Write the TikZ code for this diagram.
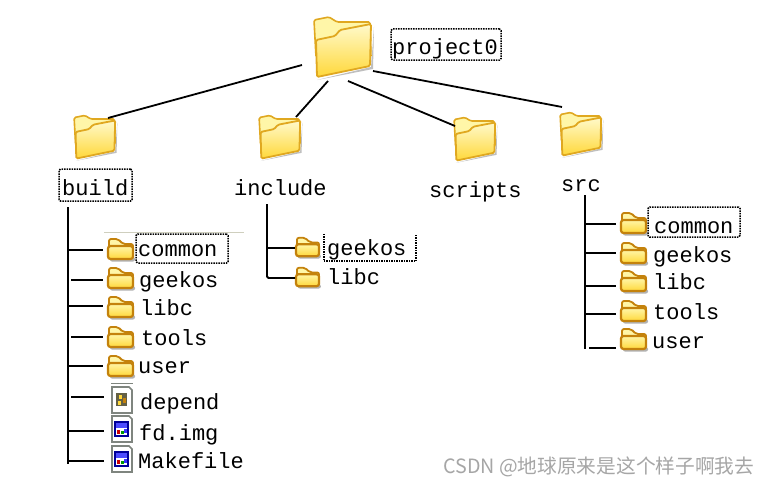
\documentclass[tikz,border=0pt]{standalone}
\usepackage{fontspec}
\setmonofont{Liberation Mono}
\newfontfamily\cjkfont{Noto Sans CJK SC}
\usetikzlibrary{positioning}
\definecolor{goldedge}{HTML}{E0A820}
\definecolor{browngold}{HTML}{C4820C}
\definecolor{creamfill}{HTML}{FFF6A8}
\definecolor{yellowfill}{HTML}{FFD83A}
\definecolor{inkblack}{HTML}{000000}
\definecolor{pagegrey}{HTML}{7F857F}
\definecolor{rulegrey}{HTML}{CFCFBE}
\definecolor{markgrey}{HTML}{A6A6A6}
\tikzset{
  tree/.style={line width=1.8pt, color=inkblack},
  lab/.style={anchor=base west, inner sep=0pt, font=\ttfamily\fontsize{22}{22}\selectfont, text=inkblack},
  dotbox/.style={draw=inkblack, densely dotted, line width=1.5pt, rounded corners=1.5pt, inner sep=0pt},
  dirnode/.style={minimum width=26pt, minimum height=22pt, inner sep=0pt, outer xsep=5pt},
  pics/bigfolder/.style={code={
    \fill[gray!50] (-26,33) -- (30,22) -- (31,-20) -- (28,20) -- cycle;
    \draw[goldedge, line width=1.6pt, fill=creamfill, rounded corners=1.5pt] (-29,-27) -- (-14,-30) -- (-6,-25) -- (27,-25) -- (28,10) -- (-27,10) -- cycle;
    \draw[goldedge, line width=1.8pt, top color=white!40!creamfill, bottom color=yellowfill, rounded corners=1.5pt] (-26,30) -- (27,19) -- (28,-23) -- (-3,-17) -- (-8,-11) -- (-27,-7) -- cycle;
  }},
  pics/treefolder/.style={code={
    \draw[browngold, line width=1.8pt, fill=creamfill, rounded corners=2pt] (-12,2) -- (-12,-10) -- (-3,-10) -- (2,-5) -- (12,-5) -- (12,2) -- cycle;
    \fill[gray!60, rounded corners=2pt] (-11,8) rectangle (14,12.5);
    \draw[browngold, line width=2.2pt, top color=creamfill, bottom color=yellowfill, rounded corners=2.5pt] (-13,-3) rectangle (12,10);
  }},
  pics/pagefile/.style={code={
    \draw[pagegrey, line width=1.6pt, fill=white] (-10,-13) -- (7,-13) -- (10,-10) -- (10,13) -- (-10,13) -- cycle;
  }},
  pics/depmark/.style={code={
    \fill[black!70!yellow] (-6,-7) rectangle (5,6);
    \fill[yellowfill] (-3,-5) rectangle (0,-1); \fill[browngold] (1,-2) rectangle (4,3); \fill[yellowfill] (-4,1) rectangle (-1,5);
  }},
  pics/imgmark/.style={code={
    \draw[blue!60!black, line width=1.3pt, fill=white] (-7,-7) rectangle (6,7);
    \fill[blue!70] (-6,-6) rectangle (5,-1);
    \fill[red!80!black] (-5,1) rectangle (-2,5); \fill[green!60!black] (-1,2) rectangle (2,5); \fill[blue!80] (2,0) rectangle (5,4);
  }}
}

\begin{document}
\begin{tikzpicture}[x=1pt,y=-1pt]
\useasboundingbox[fill=white] (0,0) rectangle (770,487);
\node[minimum width=59pt, minimum height=60pt, inner sep=0pt] (rootdir) at (343,47) {}; \pic at (rootdir) {bigfolder};
\node[minimum width=43pt, minimum height=43pt, inner sep=0pt] (builddir) at (95,137) {}; \pic[scale=.72] at (builddir) {bigfolder};
\node[minimum width=43pt, minimum height=43pt, inner sep=0pt] (includedir) at (280,137) {}; \pic[scale=.72] at (includedir) {bigfolder};
\node[minimum width=43pt, minimum height=43pt, inner sep=0pt] (scriptsdir) at (475,139) {}; \pic[scale=.72] at (scriptsdir) {bigfolder};
\node[minimum width=43pt, minimum height=43pt, inner sep=0pt] (srcdir) at (581,134) {}; \pic[scale=.72] at (srcdir) {bigfolder};
\node[dotbox, minimum width=110pt, minimum height=31pt] (projectbox) at (446,44.5) {};
\node[dotbox, minimum width=73pt, minimum height=32pt] (buildbox) at (95.5,185) {};
\node[lab] (projectlab) at (392,55) {project0};
\node[lab] (buildlab) at (62,195) {build};
\node[lab] (includelab) at (234,195) {include};
\node[lab] (scriptslab) at (429,197) {scripts};
\node[lab] (srclab) at (561,191) {src};
\coordinate (rootb) at (302,65); \coordinate (tipb) at (108,118);
\coordinate (rooti) at (328,81); \coordinate (tipi) at (296,117);
\coordinate (roots) at (348,81); \coordinate (tips) at (455,126);
\coordinate (rootc) at (373,71); \coordinate (tipc) at (562,107);
\draw[tree] (rootb) -- (tipb); \draw[tree] (rooti) -- (tipi); \draw[tree] (roots) -- (tips); \draw[tree] (rootc) -- (tipc);
\draw[rulegrey, line width=1pt] (104,232) -- (244,232);
\node[dirnode] (bcommon) at (121,249) {}; \pic at (bcommon) {treefolder};
\node[dirnode] (bgeekos) at (121,278) {}; \pic at (bgeekos) {treefolder};
\node[dirnode] (blibc) at (121,307) {}; \pic at (blibc) {treefolder};
\node[dirnode] (btools) at (121,337) {}; \pic at (btools) {treefolder};
\node[dirnode] (buser) at (121,366) {}; \pic at (buser) {treefolder};
\draw[pagegrey, line width=1pt] (111,383) -- (133,383);
\node[dirnode] (bdepend) at (122,400) {}; \pic at (bdepend) {pagefile}; \pic at (bdepend) {depmark};
\node[dirnode] (bfd) at (122,429) {}; \pic at (bfd) {pagefile}; \pic at (bfd) {imgmark};
\node[dirnode] (bmake) at (122,459) {}; \pic at (bmake) {pagefile}; \pic at (bmake) {imgmark};
\node[dotbox, minimum width=92pt, minimum height=29pt] (bcommonbox) at (182,248.5) {};
\node[lab] (bcommonlab) at (138,256) {common};
\node[lab] (bgeekoslab) at (139,287) {geekos};
\node[lab] (blibclab) at (140,315) {libc};
\node[lab] (btoolslab) at (141,345) {tools};
\node[lab] (buserlab) at (138,373) {user};
\node[lab] (bdependlab) at (140,409) {depend};
\node[lab] (bfdlab) at (139,440) {fd.img};
\node[lab] (bmakelab) at (138,468) {Makefile};
\coordinate (bt) at (68,207); \coordinate (bb) at (68,464);
\coordinate (b1) at (68,250); \coordinate (b2) at (71,280); \coordinate (b3) at (68,306); \coordinate (b4) at (71,337);
\coordinate (b5) at (68,366); \coordinate (b6) at (71,397); \coordinate (b7) at (68,431); \coordinate (b8) at (68,461);
\draw[tree] (bt) -- (bb);
\draw[tree] (b1) -- (b1 -| bcommon.west); \draw[tree] (b2) -- (b2 -| bgeekos.west);
\draw[tree] (b3) -- (b3 -| blibc.west); \draw[tree] (b4) -- (b4 -| btools.west);
\draw[tree] (b5) -- (b5 -| buser.west); \draw[tree] (b6) -- (b6 -| bdepend.west);
\draw[tree] (b7) -- (b7 -| bfd.west); \draw[tree] (b8) -- (b8 -| bmake.west);
\node[dirnode, outer xsep=0pt] (igeekos) at (308,247) {}; \pic[scale=.92] at (igeekos) {treefolder};
\node[dirnode, outer xsep=0pt] (ilibc) at (308,277) {}; \pic[scale=.92] at (ilibc) {treefolder};
\node[lab] (igeekoslab) at (327,255) {geekos};
\node[lab] (ilibclab) at (327,284) {libc};
\node[minimum width=92pt, minimum height=27pt, inner sep=0pt] (igeekosbox) at (370,247.5) {};
\draw[dotbox, rounded corners=0pt] (igeekosbox.north west) -- (igeekosbox.south west) -- (igeekosbox.south east) -- (igeekosbox.north east);
\coordinate (it) at (267,204); \coordinate (ib) at (267,278); \coordinate (i1) at (267,248);
\draw[tree, rounded corners=1.5pt] (it) -- (ib) -- (ib -| ilibc.west); \draw[tree] (i1) -- (i1 -| igeekos.west);
\node[dirnode] (scommon) at (634,223) {}; \pic at (scommon) {treefolder};
\node[dirnode] (sgeekos) at (634,253) {}; \pic at (sgeekos) {treefolder};
\node[dirnode] (slibc) at (634,281) {}; \pic at (slibc) {treefolder};
\node[dirnode] (stools) at (634,311) {}; \pic at (stools) {treefolder};
\node[dirnode] (suser) at (634,339) {}; \pic at (suser) {treefolder};
\node[dotbox, minimum width=92pt, minimum height=30pt] (scommonbox) at (694,222) {};
\node[lab] (scommonlab) at (654,233) {common};
\node[lab] (sgeekoslab) at (653,262) {geekos};
\node[lab] (slibclab) at (653,289) {libc};
\node[lab] (stoolslab) at (653,319) {tools};
\node[lab] (suserlab) at (652,348) {user};
\coordinate (st) at (585,195); \coordinate (sb) at (585,349);
\coordinate (s1) at (585,224); \coordinate (s2) at (585,253); \coordinate (s3) at (585,286); \coordinate (s4) at (585,314); \coordinate (s5) at (589,348);
\draw[tree] (st) -- (sb);
\draw[tree] (s1) -- (s1 -| scommon.west); \draw[tree] (s2) -- (s2 -| sgeekos.west);
\draw[tree] (s3) -- (s3 -| slibc.west); \draw[tree] (s4) -- (s4 -| stools.west);
\draw[tree] (s5) -- (s5 -| suser.west);
\node[anchor=west, inner sep=0pt, text=markgrey, font=\fontsize{19.7}{20}\selectfont\cjkfont] (marklab) at (443,467) {CSDN @地球原来是这个样子啊我去};
\end{tikzpicture}
\end{document}
